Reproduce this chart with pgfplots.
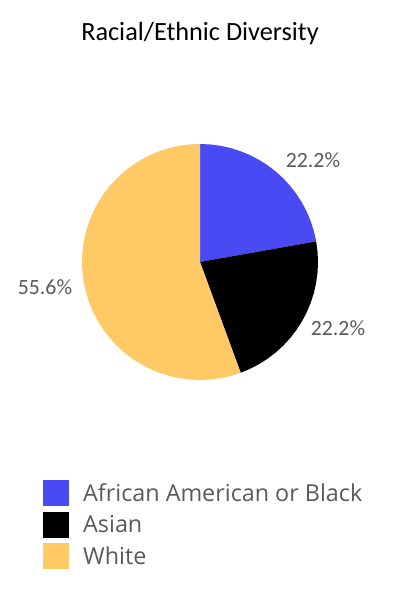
\documentclass[border=0pt]{standalone}
\usepackage{fontspec}
\setmainfont{Carlito}
\newfontfamily\legendfont{Open Sans}
\usepackage{pgfplots}
\pgfplotsset{compat=1.18}
\definecolor{cblue}{HTML}{4A4AF5}
\definecolor{cyellow}{HTML}{FFC965}
\definecolor{labgray}{HTML}{595959}
\begin{document}
\begin{tikzpicture}
\begin{axis}[
  scale only axis, width=10cm, height=15cm,
  xmin=-200, xmax=200, ymin=-338, ymax=262,
  hide axis, clip=false,
  legend image code/.code={\fill[#1] (0pt,-9.2pt) rectangle (18.4pt,9.2pt);},
  legend style={draw=none, fill=none, at={(axis cs:-157,-218)}, anchor=north west,
    font=\legendfont\fontsize{16.6}{18}\selectfont, text=labgray, inner sep=0pt,
    row sep=4pt, column sep=10pt, nodes={inner sep=0pt}},
  legend cell align=left,
]
% shares: 22.2 / 22.2 / 55.6 percent, clockwise from the top (angle, radius)
\addplot[fill=cblue, draw=none, data cs=polar] coordinates {
  (0,0) (90,118) (85,118) (80,118) (75,118) (70,118) (65,118) (60,118) (55,118)
  (50,118) (45,118) (40,118) (35,118) (30,118) (25,118) (20,118) (15,118) (10.08,118)
};
\addlegendentry{African American or Black}
\addplot[fill=black, draw=none, data cs=polar] coordinates {
  (0,0) (10.08,118) (5,118) (0,118) (-5,118) (-10,118) (-15,118) (-20,118) (-25,118)
  (-30,118) (-35,118) (-40,118) (-45,118) (-50,118) (-55,118) (-60,118) (-65,118) (-69.84,118)
};
\addlegendentry{Asian}
\addplot[fill=cyellow, draw=none, data cs=polar] coordinates {
  (0,0) (-69.84,118) (-75,118) (-80,118) (-85,118) (-90,118) (-95,118) (-100,118)
  (-105,118) (-110,118) (-115,118) (-120,118) (-125,118) (-130,118) (-135,118)
  (-140,118) (-145,118) (-150,118) (-155,118) (-160,118) (-165,118) (-170,118)
  (-175,118) (-180,118) (-185,118) (-190,118) (-195,118) (-200,118) (-205,118)
  (-210,118) (-215,118) (-220,118) (-225,118) (-230,118) (-235,118) (-240,118)
  (-245,118) (-250,118) (-255,118) (-260,118) (-265,118) (-270,118)
};
\addlegendentry{White}
\path (rel axis cs:0,0) (rel axis cs:1,1);
\node[font=\fontsize{18.7}{22}\selectfont] at (axis cs:0,229) {Racial/Ethnic Diversity};
\node[font=\fontsize{15.5}{18}\selectfont, text=labgray] at (axis cs:113,102) {22.2\%};
\node[font=\fontsize{15.5}{18}\selectfont, text=labgray] at (axis cs:138,-66) {22.2\%};
\node[font=\fontsize{15.5}{18}\selectfont, text=labgray] at (axis cs:-155,-25) {55.6\%};
\end{axis}
\end{tikzpicture}
\end{document}
